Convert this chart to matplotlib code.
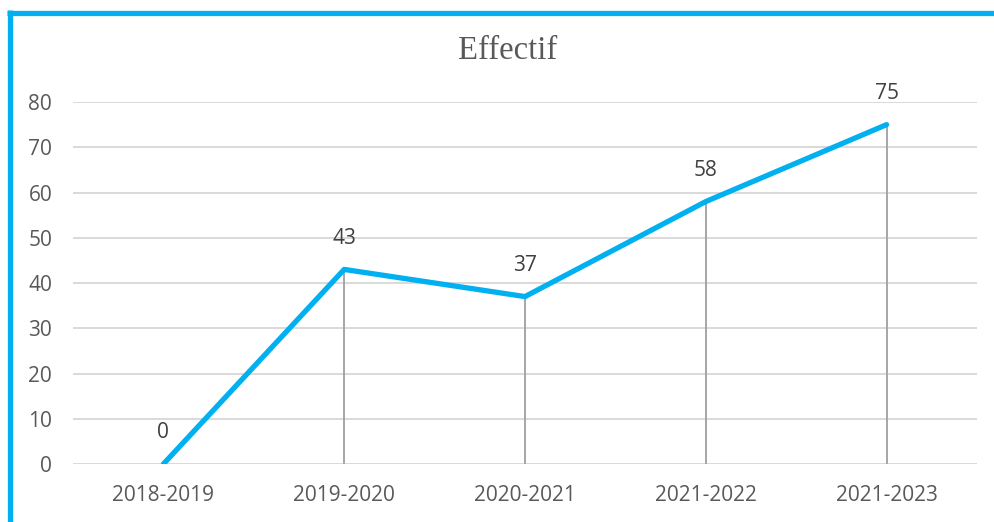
import matplotlib
matplotlib.use("Agg")
import matplotlib.pyplot as plt
from matplotlib.lines import Line2D

categories = ["2018-2019", "2019-2020", "2020-2021", "2021-2022", "2021-2023"]
values = [0, 43, 37, 58, 75]
yticks = [0, 10, 20, 30, 40, 50, 60, 70, 80]

W, H = 995, 522
fig = plt.figure(figsize=(W / 100, H / 100), dpi=100)
ax = fig.add_axes([73 / W, 58 / H, (977 - 73) / W, 362 / H])

x = list(range(len(categories)))
ax.set_xlim(-0.5, len(categories) - 0.5)
ax.set_ylim(0, 80)
ax.set_yticks(yticks)
ax.set_xticks(x)
ax.set_xticklabels(categories)

for t in yticks:
    ax.axhline(t, color="#D9D9D9", lw=1.4, zorder=0)

ax.vlines(x, 0, values, color="#A6A6A6", lw=1.4, zorder=1)
ax.plot(x, values, color="#00B0F0", lw=3.8, solid_capstyle="round", zorder=3)

for xi, v in zip(x, values):
    ax.annotate(str(v), (xi, v), xytext=(0, 22.5), textcoords="offset points",
                ha="center", va="center", fontsize=15, color="#404040",
                family="Open Sans")

for s in ax.spines.values():
    s.set_visible(False)
ax.tick_params(length=0, labelsize=15, labelcolor="#595959")
ax.tick_params(axis="y", pad=15)
ax.tick_params(axis="x", pad=15)
for lab in ax.get_xticklabels() + ax.get_yticklabels():
    lab.set_family("Open Sans")

fig.text(508 / W, 1 - 51 / H, "Effectif", ha="center", va="center",
         fontsize=23.5, color="#595959", family="Liberation Serif")

# border lines
fig.add_artist(Line2D([7 / W, 1.0], [1 - 12.5 / H, 1 - 12.5 / H],
                      transform=fig.transFigure, color="#00B0F0", lw=3.8,
                      solid_capstyle="butt"))
fig.add_artist(Line2D([9.5 / W, 9.5 / W], [0, 1 - 10 / H],
                      transform=fig.transFigure, color="#00B0F0", lw=3.8,
                      solid_capstyle="butt"))

fig.savefig("out.png", dpi=100)
